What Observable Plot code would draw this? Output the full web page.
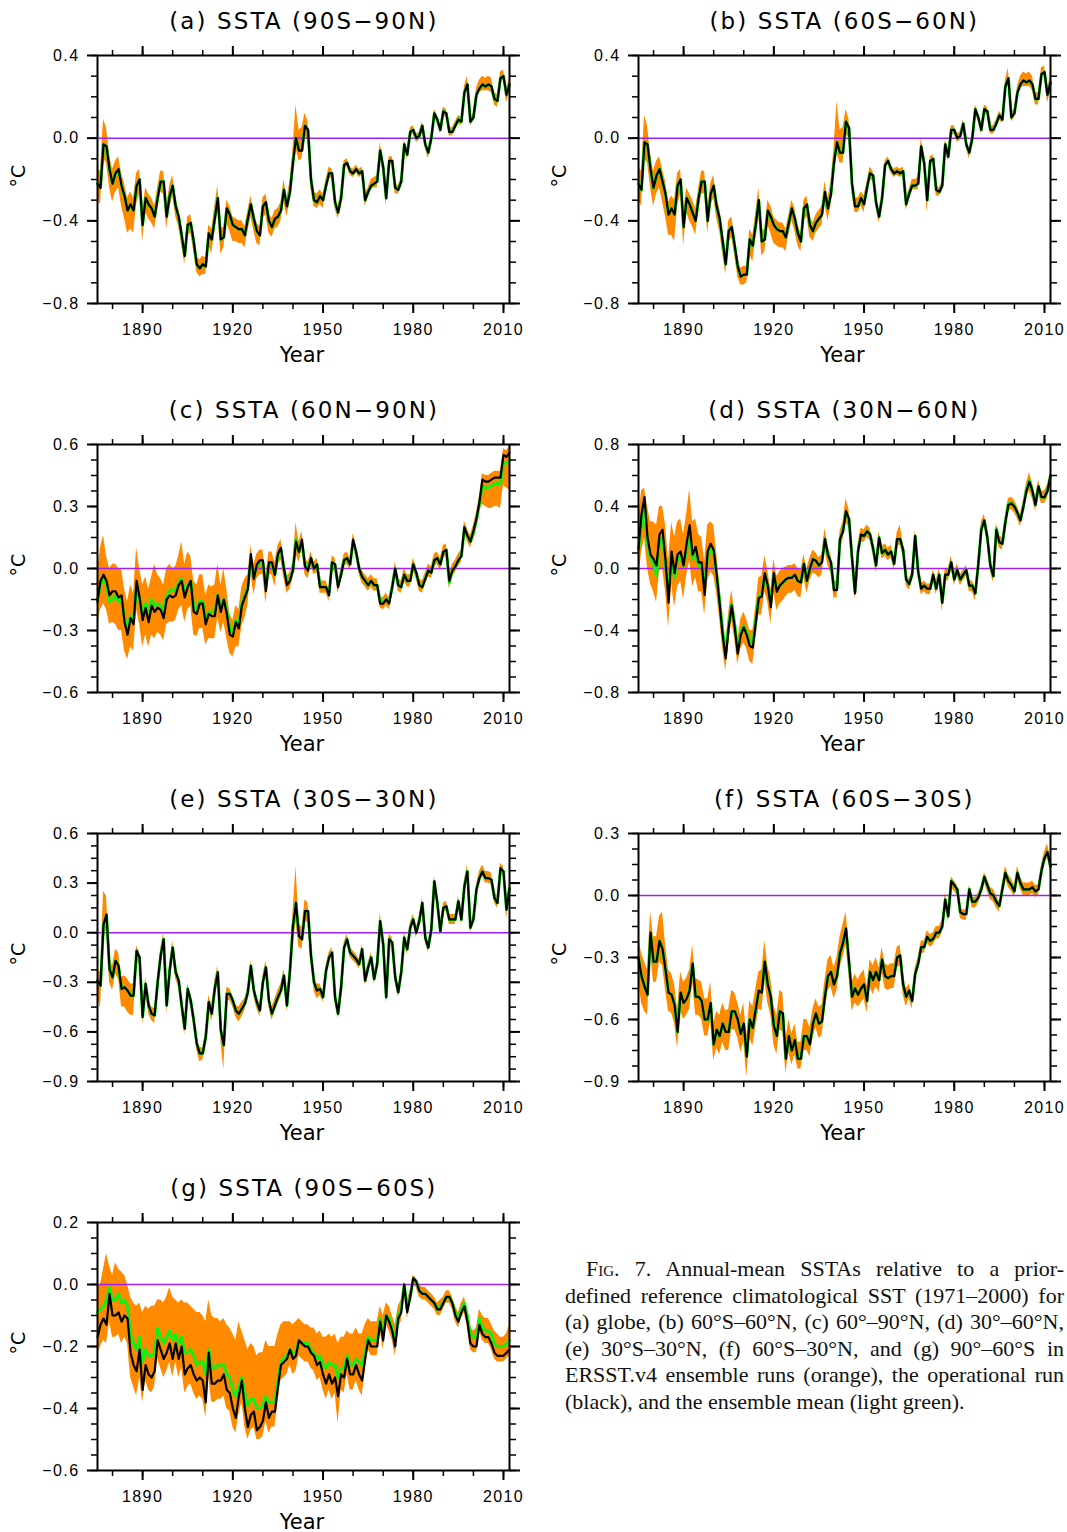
<!DOCTYPE html>
<html>
<head>
<meta charset="utf-8">
<script src="https://cdn.jsdelivr.net/npm/d3@7"></script>
<script src="https://cdn.jsdelivr.net/npm/@observablehq/plot@0.6"></script>
<style>
  html, body { margin: 0; padding: 0; background: #fff; }
  body { width: 1067px; height: 1532px; position: relative; overflow: hidden; }
  .pnl { position: absolute; width: 527px; }
  .lab { position: absolute; white-space: nowrap; font-family: "DejaVu Sans", sans-serif; color: #000; line-height: 1; transform: translate(-50%, -50%); }
  .ttl { font-size: 23px; letter-spacing: 2.1px; padding-left: 2.1px; }
  .yr { font-size: 21px; }
  .deg { font-size: 19px; transform: translate(-50%, -50%) rotate(-90deg); }
  #cap { position: absolute; left: 565px; top: 1256px; width: 499px; font-family: "Liberation Serif", "Times New Roman", serif; font-size: 22px; line-height: 26.6px; color: #111; }
  #cap div { text-align: justify; text-align-last: justify; white-space: nowrap; }
  #cap div.last { text-align-last: left; }
  #cap .sc { font-variant: small-caps; }
</style>
</head>
<body>
<div id="root"></div>
<div id="cap">
  <div style="padding-left:21px">F<span class="sc">ig</span>. 7. Annual-mean SSTAs relative to a prior-</div>
  <div>defined reference climatological SST (1971–2000) for</div>
  <div>(a) globe, (b) 60°S–60°N, (c) 60°–90°N, (d) 30°–60°N,</div>
  <div>(e) 30°S–30°N, (f) 60°S–30°N, and (g) 90°–60°S in</div>
  <div>ERSST.v4 ensemble runs (orange), the operational run</div>
  <div class="last">(black), and the ensemble mean (light green).</div>
</div>
<script>
// ---------------- data ----------------
const years = d3.range(1875, 2013); // annual means 1875..2012

const xMajorTicks = [1890, 1920, 1950, 1980, 2010];
const xMinorTicks = [1880, 1890, 1900, 1910, 1920, 1930, 1940, 1950, 1960, 1970, 1980, 1990, 2000, 2010];

const titles = ["(a) SSTA (90S−90N)", "(b) SSTA (60S−60N)", "(c) SSTA (60N−90N)", "(d) SSTA (30N−60N)",
                "(e) SSTA (30S−30N)", "(f) SSTA (60S−30S)", "(g) SSTA (90S−60S)"];

// (a) 90S-90N
const opA = [-0.22,-0.24,-0.03,-0.04,-0.15,-0.22,-0.17,-0.15,-0.23,-0.28,
 -0.35,-0.32,-0.35,-0.23,-0.20,-0.42,-0.29,-0.32,-0.34,-0.38,
 -0.29,-0.21,-0.21,-0.38,-0.28,-0.23,-0.33,-0.38,-0.47,-0.57,
 -0.42,-0.41,-0.50,-0.61,-0.63,-0.61,-0.62,-0.46,-0.49,-0.39,
 -0.29,-0.49,-0.48,-0.34,-0.37,-0.42,-0.43,-0.44,-0.44,-0.47,
 -0.39,-0.32,-0.39,-0.45,-0.47,-0.33,-0.31,-0.40,-0.43,-0.39,
 -0.38,-0.35,-0.25,-0.33,-0.26,-0.12,0.00,-0.06,-0.06,0.06,
 0.04,-0.20,-0.30,-0.31,-0.28,-0.30,-0.23,-0.17,-0.17,-0.31,
 -0.36,-0.29,-0.13,-0.12,-0.16,-0.17,-0.15,-0.17,-0.16,-0.30,
 -0.26,-0.23,-0.22,-0.21,-0.06,-0.14,-0.29,-0.11,-0.11,-0.24,
 -0.25,-0.21,-0.03,-0.08,0.03,0.04,0.00,0.01,0.06,-0.03,
 -0.07,0.00,0.12,0.09,0.04,0.13,0.12,0.03,0.03,0.06,
 0.09,0.08,0.22,0.26,0.08,0.10,0.21,0.24,0.26,0.25,
 0.26,0.25,0.19,0.18,0.29,0.30,0.21,0.26];
const hiA = [-0.15,-0.16,0.09,0.05,-0.08,-0.15,-0.11,-0.09,-0.17,-0.22,
 -0.29,-0.26,-0.29,-0.17,-0.15,-0.36,-0.24,-0.27,-0.29,-0.33,
 -0.24,-0.16,-0.16,-0.33,-0.23,-0.18,-0.29,-0.34,-0.43,-0.53,
 -0.38,-0.37,-0.46,-0.57,-0.59,-0.57,-0.58,-0.42,-0.44,-0.33,
 -0.23,-0.44,-0.43,-0.30,-0.33,-0.38,-0.39,-0.40,-0.40,-0.43,
 -0.35,-0.28,-0.35,-0.41,-0.43,-0.29,-0.27,-0.36,-0.39,-0.35,
 -0.34,-0.31,-0.20,-0.29,-0.21,-0.05,0.16,0.04,0.05,0.12,
 0.08,-0.16,-0.26,-0.27,-0.25,-0.27,-0.20,-0.14,-0.15,-0.28,
 -0.33,-0.26,-0.11,-0.10,-0.14,-0.15,-0.13,-0.15,-0.14,-0.27,
 -0.24,-0.20,-0.19,-0.18,-0.02,-0.11,-0.26,-0.09,-0.09,-0.22,
 -0.23,-0.19,-0.01,-0.06,0.05,0.06,0.02,0.03,0.08,-0.01,
 -0.05,0.02,0.14,0.11,0.06,0.15,0.14,0.05,0.05,0.08,
 0.11,0.10,0.25,0.30,0.10,0.12,0.24,0.28,0.30,0.29,
 0.30,0.29,0.22,0.21,0.32,0.33,0.24,0.29];
const loA = [-0.30,-0.32,-0.10,-0.12,-0.24,-0.31,-0.26,-0.24,-0.33,-0.39,
 -0.46,-0.44,-0.46,-0.32,-0.27,-0.50,-0.36,-0.39,-0.41,-0.44,
 -0.35,-0.26,-0.27,-0.44,-0.34,-0.28,-0.38,-0.43,-0.52,-0.61,
 -0.47,-0.46,-0.55,-0.65,-0.67,-0.66,-0.66,-0.52,-0.56,-0.45,
 -0.35,-0.56,-0.53,-0.41,-0.45,-0.50,-0.50,-0.51,-0.51,-0.53,
 -0.45,-0.38,-0.45,-0.51,-0.52,-0.39,-0.37,-0.46,-0.48,-0.44,
 -0.43,-0.40,-0.31,-0.38,-0.31,-0.18,-0.05,-0.11,-0.10,0.01,
 -0.01,-0.25,-0.33,-0.34,-0.32,-0.34,-0.26,-0.20,-0.19,-0.34,
 -0.39,-0.32,-0.15,-0.14,-0.18,-0.19,-0.17,-0.19,-0.18,-0.33,
 -0.29,-0.25,-0.24,-0.24,-0.09,-0.17,-0.33,-0.13,-0.13,-0.27,
 -0.27,-0.24,-0.06,-0.10,0.00,0.02,-0.02,-0.01,0.04,-0.05,
 -0.10,-0.02,0.10,0.07,0.02,0.11,0.10,0.01,0.01,0.04,
 0.07,0.06,0.20,0.24,0.06,0.08,0.19,0.22,0.23,0.23,
 0.23,0.22,0.16,0.15,0.27,0.28,0.17,0.22];

// (b) 60S-60N
const opB = [-0.22,-0.25,-0.02,-0.03,-0.15,-0.24,-0.18,-0.15,-0.21,-0.27,
 -0.37,-0.34,-0.37,-0.23,-0.20,-0.43,-0.29,-0.32,-0.36,-0.40,
 -0.29,-0.21,-0.21,-0.40,-0.27,-0.23,-0.33,-0.39,-0.50,-0.61,
 -0.45,-0.43,-0.52,-0.62,-0.67,-0.66,-0.66,-0.49,-0.52,-0.42,
 -0.30,-0.50,-0.49,-0.35,-0.38,-0.42,-0.44,-0.45,-0.45,-0.48,
 -0.41,-0.34,-0.39,-0.46,-0.50,-0.34,-0.32,-0.42,-0.45,-0.41,
 -0.39,-0.37,-0.26,-0.34,-0.27,-0.12,-0.02,-0.07,-0.07,0.08,
 0.05,-0.22,-0.33,-0.33,-0.29,-0.32,-0.24,-0.17,-0.18,-0.31,
 -0.38,-0.29,-0.13,-0.11,-0.15,-0.17,-0.16,-0.17,-0.16,-0.32,
 -0.27,-0.23,-0.23,-0.22,-0.04,-0.12,-0.30,-0.11,-0.10,-0.25,
 -0.26,-0.23,-0.03,-0.09,0.04,0.04,0.00,0.01,0.07,-0.03,
 -0.07,0.00,0.14,0.10,0.04,0.14,0.13,0.04,0.04,0.07,
 0.11,0.09,0.25,0.29,0.10,0.12,0.22,0.26,0.28,0.27,
 0.28,0.26,0.19,0.19,0.31,0.32,0.21,0.27];
const hiB = [-0.14,-0.16,0.11,0.06,-0.08,-0.16,-0.11,-0.09,-0.15,-0.21,
 -0.31,-0.28,-0.30,-0.17,-0.15,-0.37,-0.24,-0.27,-0.30,-0.34,
 -0.24,-0.16,-0.16,-0.35,-0.22,-0.18,-0.29,-0.34,-0.45,-0.57,
 -0.40,-0.38,-0.47,-0.58,-0.63,-0.62,-0.62,-0.44,-0.47,-0.36,
 -0.24,-0.45,-0.44,-0.30,-0.33,-0.38,-0.40,-0.41,-0.41,-0.44,
 -0.37,-0.30,-0.34,-0.42,-0.46,-0.30,-0.28,-0.38,-0.41,-0.37,
 -0.35,-0.33,-0.21,-0.29,-0.21,-0.05,0.18,0.04,0.05,0.14,
 0.09,-0.18,-0.29,-0.29,-0.26,-0.28,-0.21,-0.14,-0.16,-0.28,
 -0.35,-0.26,-0.11,-0.09,-0.13,-0.15,-0.14,-0.15,-0.14,-0.29,
 -0.25,-0.20,-0.20,-0.19,0.00,-0.09,-0.27,-0.09,-0.08,-0.23,
 -0.24,-0.21,-0.01,-0.07,0.06,0.06,0.02,0.03,0.09,-0.01,
 -0.05,0.02,0.16,0.12,0.06,0.16,0.15,0.06,0.06,0.09,
 0.13,0.11,0.28,0.34,0.12,0.14,0.25,0.30,0.32,0.31,
 0.32,0.30,0.22,0.22,0.34,0.35,0.24,0.30];
const loB = [-0.30,-0.33,-0.10,-0.12,-0.24,-0.33,-0.27,-0.24,-0.31,-0.38,
 -0.47,-0.47,-0.50,-0.33,-0.27,-0.52,-0.36,-0.40,-0.43,-0.47,
 -0.35,-0.27,-0.27,-0.46,-0.33,-0.29,-0.39,-0.45,-0.56,-0.66,
 -0.51,-0.48,-0.57,-0.67,-0.71,-0.71,-0.70,-0.56,-0.60,-0.48,
 -0.37,-0.57,-0.55,-0.42,-0.46,-0.51,-0.52,-0.53,-0.53,-0.55,
 -0.47,-0.40,-0.45,-0.52,-0.55,-0.40,-0.38,-0.48,-0.50,-0.46,
 -0.44,-0.42,-0.32,-0.40,-0.33,-0.19,-0.07,-0.12,-0.12,0.02,
 0.00,-0.27,-0.36,-0.36,-0.33,-0.36,-0.27,-0.20,-0.21,-0.34,
 -0.41,-0.32,-0.15,-0.13,-0.17,-0.19,-0.18,-0.19,-0.18,-0.35,
 -0.30,-0.25,-0.25,-0.25,-0.07,-0.15,-0.36,-0.13,-0.12,-0.28,
 -0.28,-0.26,-0.06,-0.11,0.01,0.02,-0.02,-0.01,0.05,-0.05,
 -0.10,-0.02,0.12,0.08,0.02,0.12,0.11,0.02,0.02,0.05,
 0.09,0.07,0.23,0.27,0.08,0.10,0.20,0.24,0.25,0.25,
 0.25,0.23,0.16,0.16,0.29,0.30,0.17,0.23];

// (c) 60N-90N
const opC = [-0.16,-0.06,-0.03,-0.06,-0.13,-0.11,-0.11,-0.14,-0.13,-0.26,
 -0.32,-0.24,-0.27,-0.06,-0.14,-0.25,-0.19,-0.26,-0.18,-0.21,
 -0.19,-0.20,-0.24,-0.15,-0.13,-0.14,-0.13,-0.08,-0.06,-0.14,
 -0.09,-0.06,-0.21,-0.22,-0.17,-0.17,-0.27,-0.22,-0.23,-0.23,
 -0.13,-0.21,-0.15,-0.22,-0.32,-0.33,-0.26,-0.29,-0.18,-0.14,
 -0.10,0.07,-0.05,0.02,0.04,0.04,-0.11,0.03,0.03,-0.03,
 0.07,0.10,0.00,-0.08,-0.06,-0.01,0.13,0.08,0.14,0.01,
 -0.01,0.05,0.00,0.02,-0.09,-0.09,-0.09,-0.13,0.03,0.02,
 -0.09,-0.03,0.04,0.05,0.02,0.14,0.08,0.00,-0.04,-0.06,
 -0.08,-0.06,-0.08,-0.08,-0.17,-0.17,-0.15,-0.17,-0.09,0.00,
 -0.08,-0.09,-0.03,-0.06,-0.06,0.02,-0.02,-0.08,-0.09,-0.05,
 -0.01,-0.02,0.04,0.05,0.02,0.08,0.09,-0.06,-0.01,0.01,
 0.04,0.06,0.20,0.16,0.13,0.18,0.24,0.32,0.43,0.42,
 0.42,0.43,0.44,0.44,0.44,0.55,0.54,0.56];
const meanC = [-0.15,-0.08,-0.05,-0.08,-0.16,-0.15,-0.13,-0.16,-0.15,-0.24,
 -0.29,-0.23,-0.25,-0.08,-0.15,-0.22,-0.17,-0.21,-0.15,-0.18,
 -0.17,-0.18,-0.21,-0.13,-0.11,-0.10,-0.11,-0.07,-0.05,-0.12,
 -0.08,-0.06,-0.18,-0.20,-0.16,-0.16,-0.24,-0.21,-0.21,-0.21,
 -0.13,-0.19,-0.15,-0.20,-0.29,-0.31,-0.25,-0.27,-0.17,-0.13,
 -0.09,0.04,-0.03,0.01,0.03,0.03,-0.09,0.02,0.02,-0.03,
 0.06,0.09,0.00,-0.07,-0.05,-0.01,0.14,0.08,0.12,0.02,
 0.00,0.05,0.00,0.02,-0.08,-0.09,-0.09,-0.12,0.03,0.02,
 -0.08,-0.03,0.04,0.05,0.02,0.13,0.08,0.00,-0.04,-0.06,
 -0.08,-0.06,-0.08,-0.08,-0.16,-0.16,-0.15,-0.16,-0.09,0.00,
 -0.08,-0.09,-0.03,-0.06,-0.06,0.02,-0.02,-0.08,-0.09,-0.05,
 -0.01,-0.02,0.04,0.05,0.02,0.08,0.09,-0.07,-0.01,0.01,
 0.04,0.06,0.19,0.16,0.13,0.17,0.23,0.31,0.40,0.39,
 0.39,0.40,0.41,0.41,0.41,0.51,0.51,0.52];
const hiC = [-0.02,0.10,0.16,0.06,0.00,0.02,0.02,0.00,0.00,-0.10,
 -0.16,-0.08,-0.12,0.10,0.00,-0.08,-0.04,-0.10,-0.04,0.02,
 -0.03,-0.05,-0.08,0.00,0.02,0.00,0.01,0.06,0.13,0.02,
 0.08,0.06,-0.06,-0.08,-0.03,-0.03,-0.13,-0.08,-0.09,-0.08,
 0.02,-0.08,0.00,-0.10,-0.22,-0.25,-0.18,-0.20,-0.09,-0.05,
 -0.03,0.11,0.02,0.07,0.09,0.09,-0.04,0.08,0.08,0.03,
 0.11,0.14,0.04,-0.04,-0.02,0.03,0.22,0.13,0.18,0.05,
 0.03,0.08,0.03,0.05,-0.06,-0.06,-0.06,-0.10,0.06,0.05,
 -0.06,0.00,0.07,0.08,0.05,0.17,0.11,0.03,-0.01,-0.03,
 -0.05,-0.03,-0.05,-0.05,-0.14,-0.14,-0.12,-0.14,-0.06,0.03,
 -0.05,-0.06,0.00,-0.03,-0.03,0.05,0.01,-0.05,-0.06,-0.02,
 0.02,0.01,0.07,0.08,0.05,0.11,0.12,-0.03,0.02,0.04,
 0.07,0.09,0.23,0.19,0.16,0.21,0.27,0.35,0.46,0.45,
 0.45,0.46,0.47,0.47,0.47,0.58,0.57,0.59];
const loC = [-0.28,-0.20,-0.17,-0.20,-0.27,-0.26,-0.27,-0.30,-0.30,-0.40,
 -0.44,-0.38,-0.40,-0.20,-0.27,-0.38,-0.32,-0.38,-0.32,-0.34,
 -0.31,-0.32,-0.35,-0.27,-0.26,-0.26,-0.25,-0.20,-0.18,-0.26,
 -0.20,-0.18,-0.32,-0.33,-0.29,-0.29,-0.37,-0.34,-0.34,-0.34,
 -0.24,-0.31,-0.26,-0.34,-0.41,-0.43,-0.38,-0.38,-0.28,-0.24,
 -0.18,-0.02,-0.13,-0.05,-0.03,-0.03,-0.17,-0.03,-0.03,-0.09,
 0.02,0.04,-0.05,-0.12,-0.10,-0.05,0.07,0.03,0.09,-0.03,
 -0.05,0.01,-0.03,-0.02,-0.12,-0.12,-0.12,-0.16,0.00,-0.02,
 -0.12,-0.06,0.01,0.02,-0.01,0.11,0.05,-0.03,-0.07,-0.09,
 -0.11,-0.09,-0.11,-0.11,-0.19,-0.20,-0.18,-0.20,-0.12,-0.03,
 -0.11,-0.12,-0.06,-0.09,-0.09,-0.01,-0.05,-0.11,-0.12,-0.08,
 -0.04,-0.05,0.01,0.02,-0.01,0.05,0.06,-0.10,-0.04,-0.02,
 0.01,0.03,0.17,0.13,0.10,0.14,0.20,0.28,0.31,0.30,
 0.29,0.29,0.30,0.30,0.29,0.40,0.39,0.38];

// (d) 30N-60N
const opD = [0.13,0.35,0.46,0.20,0.09,0.06,0.02,0.22,0.25,0.05,
 -0.22,0.11,-0.03,0.09,0.11,0.02,0.16,0.28,0.09,0.14,
 0.04,0.04,-0.17,0.11,0.16,0.12,-0.04,-0.23,-0.43,-0.58,
 -0.38,-0.24,-0.38,-0.55,-0.43,-0.38,-0.43,-0.50,-0.51,-0.35,
 -0.19,-0.18,-0.03,-0.11,-0.25,-0.03,-0.15,-0.11,-0.09,-0.07,
 -0.06,-0.06,-0.04,-0.08,-0.09,0.03,-0.08,0.00,0.06,0.05,
 0.02,0.04,0.19,0.09,0.04,-0.14,-0.14,0.19,0.24,0.37,
 0.32,0.07,-0.16,0.11,0.22,0.21,0.24,0.22,0.13,0.02,
 0.20,0.10,0.12,0.09,0.11,0.03,0.19,0.19,0.12,-0.07,
 -0.10,-0.04,0.21,-0.02,-0.13,-0.11,-0.13,-0.13,-0.04,-0.13,
 -0.04,-0.22,-0.04,-0.04,0.04,-0.07,-0.01,-0.07,-0.04,-0.01,
 -0.11,-0.11,-0.16,0.03,0.25,0.31,0.20,0.02,-0.05,0.25,
 0.17,0.16,0.30,0.41,0.42,0.40,0.36,0.31,0.40,0.50,
 0.56,0.50,0.41,0.53,0.46,0.46,0.50,0.60];
const meanD = [0.12,0.28,0.38,0.16,0.06,0.03,-0.05,0.18,0.20,0.02,
 -0.12,0.07,-0.06,0.06,0.08,0.02,0.12,0.22,0.06,0.10,
 0.02,0.02,-0.10,0.08,0.12,0.10,-0.04,-0.21,-0.40,-0.55,
 -0.36,-0.23,-0.36,-0.52,-0.41,-0.37,-0.41,-0.47,-0.48,-0.33,
 -0.18,-0.17,-0.04,-0.11,-0.22,-0.04,-0.14,-0.11,-0.09,-0.07,
 -0.06,-0.06,-0.04,-0.08,-0.09,0.03,-0.08,0.00,0.06,0.05,
 0.02,0.04,0.19,0.09,0.04,-0.13,-0.13,0.19,0.24,0.36,
 0.32,0.07,-0.15,0.11,0.22,0.21,0.24,0.22,0.13,0.02,
 0.20,0.10,0.12,0.09,0.11,0.03,0.19,0.19,0.12,-0.07,
 -0.10,-0.04,0.21,-0.02,-0.13,-0.11,-0.13,-0.13,-0.04,-0.13,
 -0.04,-0.22,-0.04,-0.04,0.04,-0.07,-0.01,-0.07,-0.04,-0.01,
 -0.11,-0.11,-0.16,0.03,0.26,0.31,0.20,0.02,-0.05,0.26,
 0.17,0.16,0.30,0.42,0.42,0.40,0.36,0.31,0.40,0.51,
 0.57,0.50,0.41,0.53,0.46,0.46,0.50,0.60];
const hiD = [0.30,0.50,0.52,0.40,0.30,0.30,0.28,0.40,0.40,0.28,
 0.05,0.30,0.20,0.30,0.32,0.22,0.35,0.51,0.30,0.32,
 0.22,0.20,0.05,0.28,0.30,0.28,0.10,-0.10,-0.33,-0.50,
 -0.28,-0.14,-0.28,-0.46,-0.33,-0.28,-0.33,-0.40,-0.40,-0.24,
 -0.06,-0.05,0.08,-0.01,-0.14,0.06,-0.05,-0.02,0.00,0.01,
 0.02,0.02,0.03,0.00,-0.01,0.09,0.00,0.07,0.12,0.10,
 0.07,0.09,0.26,0.14,0.09,-0.08,-0.08,0.24,0.30,0.45,
 0.38,0.13,-0.12,0.16,0.26,0.25,0.28,0.26,0.17,0.06,
 0.24,0.14,0.16,0.13,0.15,0.07,0.23,0.28,0.16,-0.03,
 -0.07,-0.01,0.25,0.01,-0.10,-0.08,-0.10,-0.10,-0.01,-0.08,
 0.00,-0.18,0.00,0.00,0.08,-0.03,0.03,-0.04,-0.01,0.02,
 -0.08,-0.08,-0.12,0.07,0.30,0.35,0.24,0.06,-0.01,0.29,
 0.21,0.20,0.34,0.45,0.46,0.44,0.40,0.35,0.44,0.55,
 0.62,0.55,0.46,0.57,0.50,0.50,0.54,0.62];
const loD = [-0.10,0.10,0.20,0.00,-0.10,-0.15,-0.22,-0.02,0.00,-0.15,
 -0.38,-0.10,-0.25,-0.12,-0.08,-0.20,-0.05,0.05,-0.12,-0.06,
 -0.15,-0.15,-0.30,-0.08,-0.02,-0.05,-0.16,-0.33,-0.52,-0.66,
 -0.48,-0.34,-0.46,-0.62,-0.52,-0.48,-0.52,-0.60,-0.62,-0.46,
 -0.30,-0.30,-0.15,-0.22,-0.36,-0.16,-0.27,-0.23,-0.21,-0.18,
 -0.16,-0.16,-0.14,-0.18,-0.19,-0.06,-0.16,-0.08,-0.03,-0.04,
 -0.06,-0.04,0.12,0.02,-0.03,-0.19,-0.19,0.13,0.18,0.30,
 0.26,0.01,-0.20,0.06,0.17,0.17,0.20,0.18,0.09,-0.03,
 0.15,0.06,0.08,0.05,0.07,-0.01,0.15,0.15,0.08,-0.11,
 -0.14,-0.08,0.17,-0.06,-0.17,-0.15,-0.17,-0.17,-0.08,-0.17,
 -0.08,-0.28,-0.08,-0.08,0.00,-0.11,-0.05,-0.11,-0.08,-0.05,
 -0.15,-0.15,-0.21,-0.01,0.21,0.27,0.16,-0.02,-0.09,0.21,
 0.13,0.12,0.26,0.37,0.38,0.36,0.32,0.27,0.36,0.45,
 0.50,0.45,0.37,0.48,0.42,0.42,0.45,0.56];

// (e) 30S-30N
const opE = [-0.29,-0.32,0.05,0.11,-0.22,-0.27,-0.17,-0.20,-0.34,-0.33,
 -0.35,-0.38,-0.38,-0.11,-0.15,-0.51,-0.31,-0.44,-0.49,-0.50,
 -0.30,-0.14,-0.04,-0.44,-0.23,-0.09,-0.24,-0.29,-0.44,-0.58,
 -0.34,-0.41,-0.53,-0.67,-0.73,-0.73,-0.63,-0.42,-0.49,-0.34,
 -0.24,-0.59,-0.68,-0.37,-0.37,-0.41,-0.47,-0.49,-0.46,-0.43,
 -0.36,-0.20,-0.35,-0.42,-0.47,-0.30,-0.21,-0.41,-0.49,-0.44,
 -0.39,-0.35,-0.26,-0.44,-0.23,0.04,0.18,-0.02,-0.04,0.13,
 0.13,-0.14,-0.30,-0.35,-0.34,-0.39,-0.23,-0.15,-0.12,-0.39,
 -0.49,-0.33,-0.09,-0.04,-0.12,-0.14,-0.16,-0.19,-0.10,-0.29,
 -0.21,-0.15,-0.28,-0.19,0.07,-0.07,-0.39,-0.04,-0.06,-0.27,
 -0.36,-0.24,-0.03,-0.10,0.03,0.08,0.00,0.07,0.18,-0.03,
 -0.09,0.02,0.31,0.18,0.01,0.15,0.16,0.08,0.08,0.08,
 0.19,0.08,0.28,0.37,0.03,0.08,0.26,0.33,0.37,0.33,
 0.33,0.32,0.21,0.18,0.39,0.37,0.14,0.27];
const hiE = [-0.22,-0.24,0.25,0.22,-0.15,-0.20,-0.10,-0.12,-0.27,-0.26,
 -0.28,-0.31,-0.31,-0.08,-0.12,-0.47,-0.27,-0.40,-0.45,-0.46,
 -0.26,-0.10,0.00,-0.40,-0.19,-0.05,-0.20,-0.25,-0.40,-0.54,
 -0.31,-0.37,-0.49,-0.63,-0.69,-0.70,-0.59,-0.38,-0.44,-0.29,
 -0.20,-0.55,-0.63,-0.33,-0.34,-0.38,-0.44,-0.45,-0.42,-0.40,
 -0.33,-0.17,-0.32,-0.39,-0.43,-0.26,-0.17,-0.37,-0.45,-0.40,
 -0.35,-0.31,-0.22,-0.40,-0.18,0.12,0.40,0.06,0.03,0.20,
 0.18,-0.10,-0.26,-0.31,-0.31,-0.36,-0.20,-0.12,-0.09,-0.36,
 -0.46,-0.30,-0.06,-0.01,-0.09,-0.11,-0.13,-0.16,-0.07,-0.26,
 -0.18,-0.12,-0.25,-0.16,0.12,-0.04,-0.36,-0.01,-0.03,-0.24,
 -0.33,-0.21,0.00,-0.07,0.06,0.11,0.03,0.10,0.21,0.00,
 -0.06,0.05,0.34,0.21,0.04,0.18,0.19,0.11,0.11,0.11,
 0.22,0.11,0.32,0.41,0.06,0.11,0.29,0.37,0.41,0.37,
 0.37,0.36,0.25,0.22,0.42,0.40,0.18,0.30];
const loE = [-0.38,-0.46,-0.05,0.02,-0.30,-0.35,-0.25,-0.28,-0.45,-0.45,
 -0.48,-0.50,-0.50,-0.17,-0.20,-0.56,-0.36,-0.49,-0.53,-0.55,
 -0.35,-0.18,-0.08,-0.49,-0.27,-0.13,-0.28,-0.33,-0.48,-0.62,
 -0.38,-0.45,-0.57,-0.71,-0.78,-0.77,-0.67,-0.46,-0.54,-0.39,
 -0.28,-0.65,-0.83,-0.41,-0.41,-0.45,-0.51,-0.54,-0.51,-0.47,
 -0.40,-0.24,-0.39,-0.46,-0.51,-0.34,-0.25,-0.45,-0.53,-0.48,
 -0.43,-0.39,-0.30,-0.48,-0.28,-0.05,0.06,-0.09,-0.10,0.06,
 0.07,-0.18,-0.35,-0.40,-0.38,-0.42,-0.26,-0.18,-0.15,-0.42,
 -0.52,-0.36,-0.12,-0.07,-0.15,-0.17,-0.19,-0.22,-0.13,-0.32,
 -0.24,-0.18,-0.31,-0.22,0.03,-0.10,-0.43,-0.07,-0.09,-0.30,
 -0.39,-0.27,-0.06,-0.13,0.00,0.05,-0.03,0.04,0.15,-0.06,
 -0.12,-0.01,0.28,0.15,-0.02,0.12,0.13,0.05,0.05,0.05,
 0.16,0.05,0.25,0.34,0.00,0.05,0.23,0.30,0.34,0.30,
 0.30,0.29,0.18,0.15,0.36,0.34,0.08,0.24];

// (f) 60S-30S
const opF = [-0.30,-0.39,-0.44,-0.48,-0.18,-0.32,-0.32,-0.22,-0.26,-0.36,
 -0.47,-0.48,-0.53,-0.66,-0.47,-0.52,-0.50,-0.46,-0.33,-0.49,
 -0.49,-0.51,-0.60,-0.60,-0.52,-0.72,-0.65,-0.68,-0.62,-0.66,
 -0.66,-0.56,-0.56,-0.60,-0.67,-0.62,-0.78,-0.60,-0.64,-0.55,
 -0.46,-0.47,-0.32,-0.43,-0.49,-0.63,-0.68,-0.56,-0.57,-0.79,
 -0.68,-0.75,-0.70,-0.79,-0.79,-0.68,-0.68,-0.72,-0.62,-0.57,
 -0.62,-0.61,-0.49,-0.39,-0.37,-0.43,-0.39,-0.28,-0.23,-0.16,
 -0.32,-0.49,-0.45,-0.48,-0.45,-0.43,-0.51,-0.37,-0.41,-0.37,
 -0.41,-0.31,-0.39,-0.40,-0.39,-0.39,-0.30,-0.29,-0.43,-0.49,
 -0.46,-0.51,-0.38,-0.33,-0.25,-0.25,-0.20,-0.22,-0.21,-0.18,
 -0.18,-0.15,-0.02,-0.10,0.07,0.05,0.03,-0.08,-0.09,-0.09,
 0.03,-0.03,-0.03,-0.01,0.03,0.09,0.05,0.01,0.00,-0.03,
 -0.05,0.03,0.11,0.07,0.05,0.02,0.11,0.06,0.03,0.03,
 0.03,0.04,0.02,0.03,0.12,0.18,0.21,0.14];
const hiF = [-0.20,-0.28,-0.32,-0.36,-0.08,-0.20,-0.20,-0.10,-0.08,-0.24,
 -0.36,-0.38,-0.43,-0.55,-0.37,-0.42,-0.40,-0.36,-0.24,-0.40,
 -0.41,-0.42,-0.50,-0.50,-0.42,-0.62,-0.56,-0.58,-0.52,-0.56,
 -0.55,-0.46,-0.47,-0.52,-0.58,-0.52,-0.68,-0.51,-0.54,-0.45,
 -0.37,-0.36,-0.22,-0.34,-0.40,-0.53,-0.58,-0.46,-0.47,-0.70,
 -0.60,-0.67,-0.62,-0.71,-0.71,-0.60,-0.60,-0.64,-0.55,-0.50,
 -0.54,-0.53,-0.41,-0.31,-0.29,-0.35,-0.30,-0.20,-0.14,-0.08,
 -0.24,-0.42,-0.38,-0.41,-0.38,-0.36,-0.44,-0.31,-0.34,-0.30,
 -0.35,-0.25,-0.33,-0.34,-0.33,-0.33,-0.25,-0.24,-0.38,-0.45,
 -0.43,-0.48,-0.35,-0.30,-0.22,-0.22,-0.17,-0.19,-0.18,-0.15,
 -0.15,-0.12,0.01,-0.07,0.09,0.07,0.05,-0.06,-0.07,-0.07,
 0.05,-0.01,-0.01,0.01,0.05,0.11,0.08,0.04,0.03,0.00,
 -0.03,0.06,0.14,0.10,0.08,0.05,0.14,0.09,0.06,0.06,
 0.06,0.07,0.05,0.05,0.15,0.21,0.25,0.18];
const loF = [-0.40,-0.52,-0.56,-0.58,-0.28,-0.42,-0.42,-0.32,-0.34,-0.46,
 -0.56,-0.57,-0.62,-0.74,-0.56,-0.60,-0.58,-0.55,-0.42,-0.58,
 -0.58,-0.60,-0.68,-0.68,-0.61,-0.80,-0.74,-0.77,-0.71,-0.75,
 -0.75,-0.65,-0.65,-0.69,-0.76,-0.71,-0.88,-0.69,-0.73,-0.64,
 -0.55,-0.56,-0.41,-0.52,-0.58,-0.72,-0.77,-0.65,-0.66,-0.86,
 -0.76,-0.82,-0.77,-0.84,-0.84,-0.75,-0.75,-0.78,-0.69,-0.64,
 -0.69,-0.68,-0.56,-0.46,-0.44,-0.50,-0.46,-0.35,-0.30,-0.24,
 -0.39,-0.56,-0.52,-0.54,-0.52,-0.50,-0.57,-0.44,-0.48,-0.44,
 -0.47,-0.37,-0.45,-0.46,-0.45,-0.45,-0.35,-0.34,-0.48,-0.54,
 -0.50,-0.55,-0.42,-0.36,-0.28,-0.28,-0.23,-0.25,-0.24,-0.21,
 -0.21,-0.18,-0.05,-0.13,0.04,0.02,0.00,-0.11,-0.12,-0.12,
 0.00,-0.06,-0.06,-0.04,0.00,0.06,0.02,-0.02,-0.03,-0.06,
 -0.08,0.00,0.08,0.04,0.02,-0.01,0.08,0.03,0.00,0.00,
 0.00,0.01,-0.01,0.00,0.09,0.15,0.18,0.11];

// (g) 90S-60S
const opG = [-0.17,-0.13,-0.11,-0.13,-0.03,-0.10,-0.10,-0.09,-0.12,-0.10,
 -0.11,-0.22,-0.26,-0.28,-0.21,-0.34,-0.26,-0.29,-0.30,-0.28,
 -0.18,-0.21,-0.24,-0.22,-0.19,-0.24,-0.19,-0.24,-0.20,-0.29,
 -0.27,-0.26,-0.29,-0.31,-0.30,-0.31,-0.38,-0.22,-0.32,-0.32,
 -0.31,-0.31,-0.29,-0.34,-0.35,-0.40,-0.43,-0.36,-0.31,-0.40,
 -0.46,-0.42,-0.41,-0.47,-0.46,-0.44,-0.38,-0.43,-0.41,-0.41,
 -0.33,-0.26,-0.25,-0.24,-0.21,-0.24,-0.23,-0.18,-0.19,-0.20,
 -0.20,-0.22,-0.23,-0.26,-0.25,-0.29,-0.32,-0.29,-0.32,-0.30,
 -0.36,-0.29,-0.30,-0.24,-0.29,-0.29,-0.26,-0.29,-0.31,-0.24,
 -0.18,-0.20,-0.20,-0.20,-0.12,-0.18,-0.10,-0.12,-0.15,-0.20,
 -0.11,-0.09,0.00,-0.09,-0.04,0.02,0.01,-0.02,-0.03,-0.03,
 -0.04,-0.05,-0.06,-0.08,-0.08,-0.06,-0.04,-0.04,-0.06,-0.10,
 -0.12,-0.09,-0.07,-0.12,-0.19,-0.20,-0.20,-0.13,-0.16,-0.17,
 -0.17,-0.19,-0.22,-0.23,-0.23,-0.23,-0.22,-0.21];
const meanG = [-0.09,-0.08,-0.07,-0.05,-0.01,-0.05,-0.05,-0.03,-0.06,-0.05,
 -0.07,-0.16,-0.19,-0.21,-0.17,-0.25,-0.21,-0.23,-0.23,-0.22,
 -0.14,-0.17,-0.19,-0.17,-0.15,-0.18,-0.16,-0.19,-0.17,-0.22,
 -0.22,-0.21,-0.23,-0.26,-0.25,-0.25,-0.29,-0.21,-0.27,-0.27,
 -0.26,-0.26,-0.26,-0.29,-0.30,-0.34,-0.36,-0.33,-0.30,-0.35,
 -0.39,-0.37,-0.37,-0.40,-0.40,-0.39,-0.36,-0.38,-0.38,-0.38,
 -0.31,-0.25,-0.24,-0.23,-0.21,-0.22,-0.22,-0.18,-0.19,-0.19,
 -0.19,-0.21,-0.22,-0.24,-0.23,-0.26,-0.27,-0.25,-0.26,-0.26,
 -0.30,-0.27,-0.27,-0.23,-0.26,-0.26,-0.24,-0.25,-0.26,-0.22,
 -0.17,-0.18,-0.18,-0.18,-0.11,-0.16,-0.10,-0.11,-0.14,-0.18,
 -0.10,-0.08,0.00,-0.08,-0.04,0.02,0.01,-0.02,-0.03,-0.03,
 -0.04,-0.05,-0.06,-0.08,-0.07,-0.06,-0.04,-0.04,-0.06,-0.09,
 -0.11,-0.08,-0.06,-0.10,-0.16,-0.17,-0.17,-0.11,-0.14,-0.15,
 -0.15,-0.16,-0.19,-0.20,-0.20,-0.20,-0.19,-0.18];
const hiG = [0.00,0.00,0.05,0.10,0.06,0.03,0.07,0.05,0.04,0.03,
 0.00,-0.04,-0.06,-0.07,-0.06,-0.09,-0.07,-0.08,-0.07,-0.07,
 -0.05,-0.05,-0.06,-0.04,-0.01,-0.04,-0.05,-0.06,-0.05,-0.06,
 -0.06,-0.07,-0.08,-0.09,-0.09,-0.10,-0.12,-0.05,-0.10,-0.11,
 -0.11,-0.12,-0.11,-0.13,-0.14,-0.16,-0.18,-0.12,-0.15,-0.18,
 -0.21,-0.19,-0.20,-0.23,-0.22,-0.22,-0.18,-0.20,-0.20,-0.20,
 -0.16,-0.13,-0.12,-0.12,-0.12,-0.13,-0.12,-0.11,-0.12,-0.13,
 -0.13,-0.14,-0.14,-0.16,-0.15,-0.17,-0.17,-0.16,-0.17,-0.16,
 -0.19,-0.17,-0.17,-0.15,-0.16,-0.16,-0.14,-0.16,-0.16,-0.13,
 -0.11,-0.12,-0.12,-0.12,-0.07,-0.10,-0.06,-0.07,-0.10,-0.13,
 -0.07,-0.05,0.01,-0.05,-0.02,0.03,0.02,0.00,-0.01,-0.01,
 -0.02,-0.03,-0.04,-0.06,-0.05,-0.04,-0.02,-0.02,-0.04,-0.07,
 -0.09,-0.06,-0.04,-0.08,-0.14,-0.15,-0.14,-0.08,-0.10,-0.11,
 -0.11,-0.13,-0.15,-0.16,-0.17,-0.17,-0.16,-0.13];
const loG = [-0.23,-0.20,-0.18,-0.19,-0.12,-0.17,-0.17,-0.16,-0.19,-0.17,
 -0.19,-0.30,-0.33,-0.36,-0.30,-0.38,-0.31,-0.34,-0.35,-0.33,
 -0.24,-0.27,-0.30,-0.28,-0.25,-0.30,-0.25,-0.30,-0.27,-0.35,
 -0.33,-0.32,-0.35,-0.37,-0.36,-0.37,-0.43,-0.30,-0.38,-0.38,
 -0.37,-0.37,-0.36,-0.40,-0.41,-0.46,-0.48,-0.42,-0.38,-0.46,
 -0.50,-0.47,-0.46,-0.50,-0.50,-0.49,-0.44,-0.48,-0.46,-0.46,
 -0.38,-0.31,-0.30,-0.29,-0.26,-0.29,-0.28,-0.23,-0.24,-0.25,
 -0.25,-0.27,-0.28,-0.31,-0.30,-0.34,-0.37,-0.34,-0.37,-0.35,
 -0.45,-0.34,-0.35,-0.29,-0.34,-0.34,-0.31,-0.34,-0.36,-0.28,
 -0.21,-0.23,-0.23,-0.23,-0.15,-0.21,-0.13,-0.15,-0.18,-0.23,
 -0.14,-0.12,-0.02,-0.11,-0.06,0.00,-0.01,-0.04,-0.05,-0.05,
 -0.06,-0.07,-0.08,-0.10,-0.10,-0.08,-0.06,-0.06,-0.08,-0.12,
 -0.14,-0.11,-0.09,-0.14,-0.21,-0.22,-0.22,-0.15,-0.18,-0.19,
 -0.19,-0.21,-0.24,-0.25,-0.25,-0.25,-0.24,-0.23];

// y-axis major ticks per panel
const yTicksA = [-0.8, -0.4, 0, 0.4];
const yTicksB = [-0.8, -0.4, 0, 0.4];
const yTicksC = [-0.6, -0.3, 0, 0.3, 0.6];
const yTicksD = [-0.8, -0.4, 0, 0.4, 0.8];
const yTicksE = [-0.9, -0.6, -0.3, 0, 0.3, 0.6];
const yTicksF = [-0.9, -0.6, -0.3, 0, 0.3];
const yTicksG = [-0.6, -0.4, -0.2, 0, 0.2];

// ---------------- drawing ----------------
const check = {opA,hiA,loA,opB,hiB,loB,opC,meanC,hiC,loC,opD,meanD,hiD,loD,opE,hiE,loE,opF,hiF,loF,opG,meanG,hiG,loG};
for (const [k, v] of Object.entries(check)) if (v.length !== years.length) throw new Error(k + " length " + v.length);

const ORANGE = "#ff8a00", GREEN = "#13ee13", PURPLE = "#a020f0";
const root = document.getElementById("root");
const colX = [0, 540.5];
const rowY = [0, 389, 778, 1167];

function minorTicks(domain, step) {
  const n = Math.round((domain[1] - domain[0]) / step);
  return d3.range(n + 1).map(i => +(domain[0] + i * step).toFixed(4));
}

function panel({title, op, mean, lo, hi, yDomain, yTicks, yStep, col, row}) {
  const data = years.map((yr, i) => ({year: yr, op: op[i], mean: mean[i], lo: lo[i], hi: hi[i]}));
  const yMinor = minorTicks(yDomain, yStep);
  const blank = () => "";
  const plot = Plot.plot({
    width: 527, height: 318,
    marginLeft: 97, marginRight: 18, marginTop: 20, marginBottom: 50,
    x: {domain: [1875, 2012], label: null},
    y: {domain: yDomain, label: null},
    style: "font-family: 'Liberation Sans', Arial, sans-serif; font-size: 16px; letter-spacing: 1.4px; color: #000; background: #fff; overflow: visible;",
    marks: [
      Plot.areaY(data, {x: "year", y1: "lo", y2: "hi", fill: ORANGE}),
      Plot.ruleY([0], {stroke: PURPLE, strokeWidth: 1.5}),
      Plot.lineY(data, {x: "year", y: "mean", stroke: GREEN, strokeWidth: 3}),
      Plot.lineY(data, {x: "year", y: "op", stroke: "#000", strokeWidth: 2.2}),
      Plot.frame({stroke: "#000", strokeWidth: 2}),
      Plot.axisX(xMajorTicks, {anchor: "bottom", tickSize: 10, tickPadding: 10, tickFormat: d3.format("d"), label: null, strokeWidth: 2}),
      Plot.axisX(xMinorTicks, {anchor: "bottom", tickSize: 6, tickFormat: blank, label: null, strokeWidth: 1.5}),
      Plot.axisX(xMajorTicks, {anchor: "top", tickSize: 10, tickFormat: blank, label: null, strokeWidth: 2}),
      Plot.axisX(xMinorTicks, {anchor: "top", tickSize: 6, tickFormat: blank, label: null, strokeWidth: 1.5}),
      Plot.axisY(yTicks, {anchor: "left", tickSize: 10, tickPadding: 8, tickFormat: d3.format(".1f"), label: null, strokeWidth: 2}),
      Plot.axisY(yMinor, {anchor: "left", tickSize: 6, tickFormat: blank, label: null, strokeWidth: 1.5}),
      Plot.axisY(yTicks, {anchor: "right", tickSize: 10, tickFormat: blank, label: null, strokeWidth: 2}),
      Plot.axisY(yMinor, {anchor: "right", tickSize: 6, tickFormat: blank, label: null, strokeWidth: 1.5})
    ]
  });
  const x0 = colX[col], y0 = rowY[row];
  const wrap = document.createElement("div");
  wrap.className = "pnl";
  wrap.style.left = x0 + "px";
  wrap.style.top = (y0 + 35) + "px";
  wrap.appendChild(plot);
  root.appendChild(wrap);

  const mk = (cls, text, cx, cy) => {
    const d = document.createElement("div");
    d.className = "lab " + cls;
    d.textContent = text;
    d.style.left = cx + "px";
    d.style.top = cy + "px";
    root.appendChild(d);
  };
  mk("ttl", title, x0 + 302.8, y0 + 21);
  mk("yr", "Year", x0 + 302, y0 + 355);
  mk("deg", "°C", x0 + 18, y0 + 176);
}

panel({title: titles[0], op: opA, mean: opA, lo: loA, hi: hiA, yDomain: [-0.8, 0.4], yTicks: yTicksA, yStep: 0.1, col: 0, row: 0});
panel({title: titles[1], op: opB, mean: opB, lo: loB, hi: hiB, yDomain: [-0.8, 0.4], yTicks: yTicksB, yStep: 0.1, col: 1, row: 0});
panel({title: titles[2], op: opC, mean: meanC, lo: loC, hi: hiC, yDomain: [-0.6, 0.6], yTicks: yTicksC, yStep: 0.075, col: 0, row: 1});
panel({title: titles[3], op: opD, mean: meanD, lo: loD, hi: hiD, yDomain: [-0.8, 0.8], yTicks: yTicksD, yStep: 0.1, col: 1, row: 1});
panel({title: titles[4], op: opE, mean: opE, lo: loE, hi: hiE, yDomain: [-0.9, 0.6], yTicks: yTicksE, yStep: 0.075, col: 0, row: 2});
panel({title: titles[5], op: opF, mean: opF, lo: loF, hi: hiF, yDomain: [-0.9, 0.3], yTicks: yTicksF, yStep: 0.075, col: 1, row: 2});
panel({title: titles[6], op: opG, mean: meanG, lo: loG, hi: hiG, yDomain: [-0.6, 0.2], yTicks: yTicksG, yStep: 0.05, col: 0, row: 3});
</script>
</body>
</html>
